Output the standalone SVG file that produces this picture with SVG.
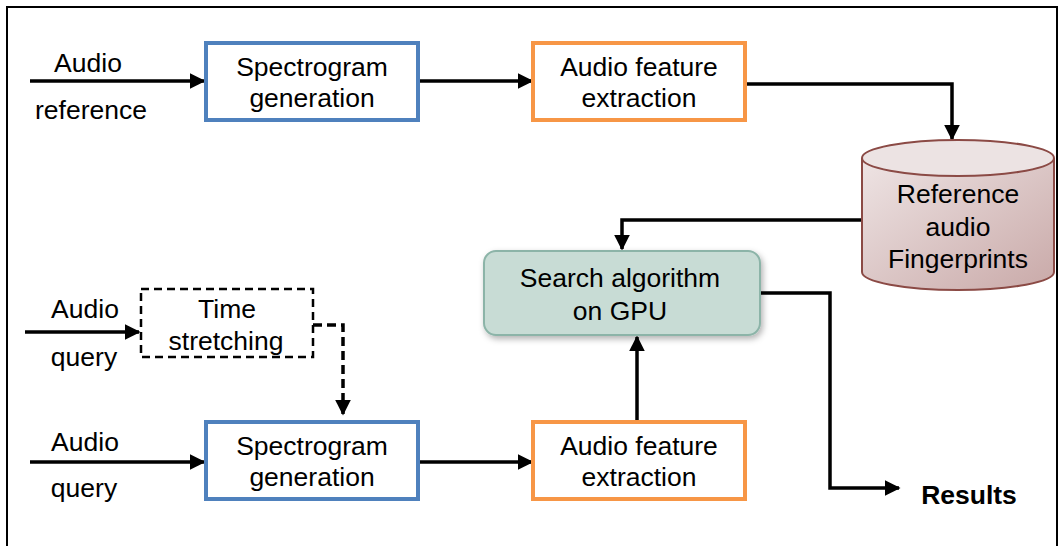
<svg xmlns="http://www.w3.org/2000/svg" width="1061" height="546" viewBox="0 0 1061 546">
<style>
text{font-family:"Liberation Sans",Arial,sans-serif;font-size:26.5px;fill:#000;text-anchor:middle}
.blue{fill:#fff;stroke:#4F81BD;stroke-width:4}
.orange{fill:#fff;stroke:#F79646;stroke-width:4}
.con{fill:none;stroke:#000;stroke-width:3.5}
.dash{fill:none;stroke:#000;stroke-width:2.5;stroke-dasharray:8,5}
</style>
<defs>
<marker id="ah" viewBox="0 0 10 10" refX="9" refY="5" markerWidth="4.5" markerHeight="4.5" orient="auto" markerUnits="strokeWidth">
<path d="M0,0 L10,5 L0,10 z" fill="#000"/>
</marker>
<linearGradient id="cyl" x1="0" y1="0" x2="1" y2="1">
<stop offset="0" stop-color="#eee4e4"/>
<stop offset="1" stop-color="#c9a9a8"/>
</linearGradient>
<filter id="sh" x="-10%" y="-10%" width="130%" height="140%">
<feDropShadow dx="2" dy="3" stdDeviation="3" flood-color="#000" flood-opacity="0.3"/>
</filter>
</defs>
<rect x="7" y="7" width="1050" height="560" fill="#fff" stroke="#000" stroke-width="2"/>

<g id="connectors">
<line class="con" x1="30" y1="81" x2="204" y2="81" marker-end="url(#ah)"/>
<line class="con" x1="418" y1="81" x2="532" y2="81" marker-end="url(#ah)"/>
<polyline class="con" points="745,84 952,84 952,139" marker-end="url(#ah)"/>
<polyline class="con" points="862,220 622,220 622,249" marker-end="url(#ah)"/>
<polyline class="con" points="760,293 830,293 830,488 899,488" marker-end="url(#ah)"/>
<line class="con" x1="637" y1="420" x2="637" y2="337" marker-end="url(#ah)"/>
<line class="con" x1="418" y1="462" x2="532" y2="462" marker-end="url(#ah)"/>
<line class="con" x1="30" y1="462" x2="204" y2="462" marker-end="url(#ah)"/>
<line class="con" x1="25" y1="332" x2="139" y2="332" marker-end="url(#ah)"/>
<polyline class="con" points="313,325 343,325 343,414" stroke-dasharray="9,5" marker-end="url(#ah)"/>
</g>

<g id="label-audio-reference">
<text x="88" y="72">Audio</text>
<text x="91" y="119">reference</text>
</g>

<g id="spectro-top">
<rect class="blue" x="206" y="43" width="212" height="77"/>
<text x="312" y="76">Spectrogram</text>
<text x="312" y="107">generation</text>
</g>

<g id="feature-top">
<rect class="orange" x="533" y="43" width="212" height="77"/>
<text x="639" y="76">Audio feature</text>
<text x="639" y="107">extraction</text>
</g>

<g id="fingerprints">
<path d="M862,158 L862,272 A96,18 0 0 0 1054,272 L1054,158" fill="url(#cyl)" stroke="#8b4a45" stroke-width="2"/>
<ellipse cx="958" cy="158" rx="96" ry="18" fill="#ece3e3" stroke="#8b4a45" stroke-width="2"/>
<text x="958" y="203">Reference</text>
<text x="958" y="236">audio</text>
<text x="958" y="268">Fingerprints</text>
</g>

<g id="search">
<rect x="484" y="251" width="276" height="84" rx="12" fill="#c8dcd5" stroke="#8cb4a8" stroke-width="2" filter="url(#sh)"/>
<text x="620" y="287">Search algorithm</text>
<text x="620" y="320">on GPU</text>
</g>

<g id="label-audio-query-1">
<text x="85" y="318">Audio</text>
<text x="84" y="366">query</text>
</g>

<g id="time-stretching">
<rect class="dash" x="141" y="289" width="172" height="68"/>
<text x="227" y="318">Time</text>
<text x="226" y="350">stretching</text>
</g>

<g id="label-audio-query-2">
<text x="85" y="451">Audio</text>
<text x="84" y="497">query</text>
</g>

<g id="spectro-bottom">
<rect class="blue" x="206" y="422" width="212" height="77"/>
<text x="312" y="455">Spectrogram</text>
<text x="312" y="486">generation</text>
</g>

<g id="feature-bottom">
<rect class="orange" x="533" y="422" width="212" height="77"/>
<text x="639" y="455">Audio feature</text>
<text x="639" y="486">extraction</text>
</g>

<g id="results">
<text x="969" y="504" style="font-weight:bold">Results</text>
</g>
</svg>
